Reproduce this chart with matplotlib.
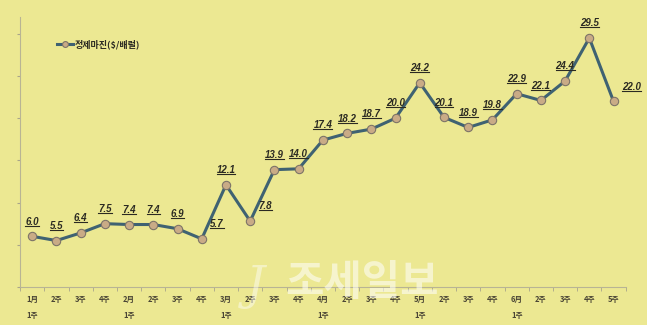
import matplotlib.pyplot as plt
import numpy as np
from matplotlib.lines import Line2D

plt.rcParams['font.family'] = ['Noto Sans CJK KR', 'DejaVu Sans']

# Data
weeks = ["1月\n1주", "2주", "3주", "4주",
         "2月\n1주", "2주", "3주", "4주",
         "3月\n1주", "2주", "3주", "4주",
         "4月\n1주", "2주", "3주", "4주",
         "5月\n1주", "2주", "3주", "4주",
         "6月\n1주", "2주", "3주", "4주", "5주"]
margin = [6.0, 5.5, 6.4, 7.5, 7.4, 7.4, 6.9, 5.7, 12.1, 7.8, 13.9, 14.0,
          17.4, 18.2, 18.7, 20.0, 24.2, 20.1, 18.9, 19.8, 22.9, 22.1, 24.4, 29.5, 22.0]
series_name = "정제마진($/배럴)"

bg = '#ece892'
fig = plt.figure(figsize=(6.47, 3.25), dpi=100, facecolor=bg)
ax = fig.add_axes([0.031, 0.117, 0.936, 0.831], facecolor=bg)

x = np.arange(len(margin))
ax.plot(x, margin, color='#3f6272', linewidth=2.2, marker='o', markersize=6,
        markerfacecolor='#c9ab86', markeredgecolor='#7d7468', markeredgewidth=0.8,
        label=series_name, zorder=3)

ax.set_xlim(-0.5, len(margin) - 0.5)
ax.set_ylim(0, 32)
ax.set_yticks(np.arange(0, 31, 5))
ax.set_yticklabels([])
ax.set_xticks(x)
ax.set_xticklabels(weeks, fontsize=5.5, fontweight='bold', color='#4a4535', linespacing=1.9,
                   va='top')
ax.tick_params(axis='x', length=0, pad=6)
ax.set_xticks(np.arange(-0.5, len(margin), 1), minor=True)
ax.tick_params(axis='x', which='minor', length=3, color='#a9a58a')
ax.tick_params(axis='y', length=2, color='#a9a58a')
for s in ['top', 'right']:
    ax.spines[s].set_visible(False)
for s in ['left', 'bottom']:
    ax.spines[s].set_color('#b8b494')
    ax.spines[s].set_linewidth(0.8)

# data labels (offset in points)
right_side = {7, 9, 24}
labels = []
for i, v in enumerate(margin):
    if i in right_side:
        dx, dy, ha = 6, 7, 'left'
    else:
        dx, dy, ha = 0, 7, 'center'
    t = ax.annotate(f"{v:.1f}", (i, v), xytext=(dx, dy), textcoords='offset points',
                    ha=ha, va='bottom', fontsize=7, fontweight='bold', fontstyle='italic',
                    family='Liberation Sans', color='#2b2a22', zorder=4)
    labels.append(t)

leg = ax.legend(loc='upper left', bbox_to_anchor=(0.055, 0.93), frameon=False,
                prop={'size': 6.5, 'weight': 'bold'}, handlelength=1.8, borderaxespad=0,
                handletextpad=0.2, markerscale=0.7)
for t in leg.get_texts():
    t.set_color('#2b2a22')

# watermark
fig.text(0.56, 0.13, "조세일보", fontsize=30, fontweight='bold', color='white', alpha=0.55,
         ha='center', va='center', zorder=10)
fig.text(0.395, 0.12, "J", fontsize=34, fontstyle='italic', color='white', alpha=0.45,
         ha='center', va='center', family='DejaVu Serif', zorder=10)

# underline each data label
fig.canvas.draw()
r = fig.canvas.get_renderer()
W, H = fig.bbox.width, fig.bbox.height
for t in labels:
    bb = t.get_window_extent(r)
    yl = bb.y0 + 1.0
    fig.add_artist(Line2D([bb.x0 / W, bb.x1 / W], [yl / H, yl / H], transform=fig.transFigure,
                          color='#2b2a22', linewidth=0.8))

fig.savefig("out.png", dpi=100, facecolor=bg)
